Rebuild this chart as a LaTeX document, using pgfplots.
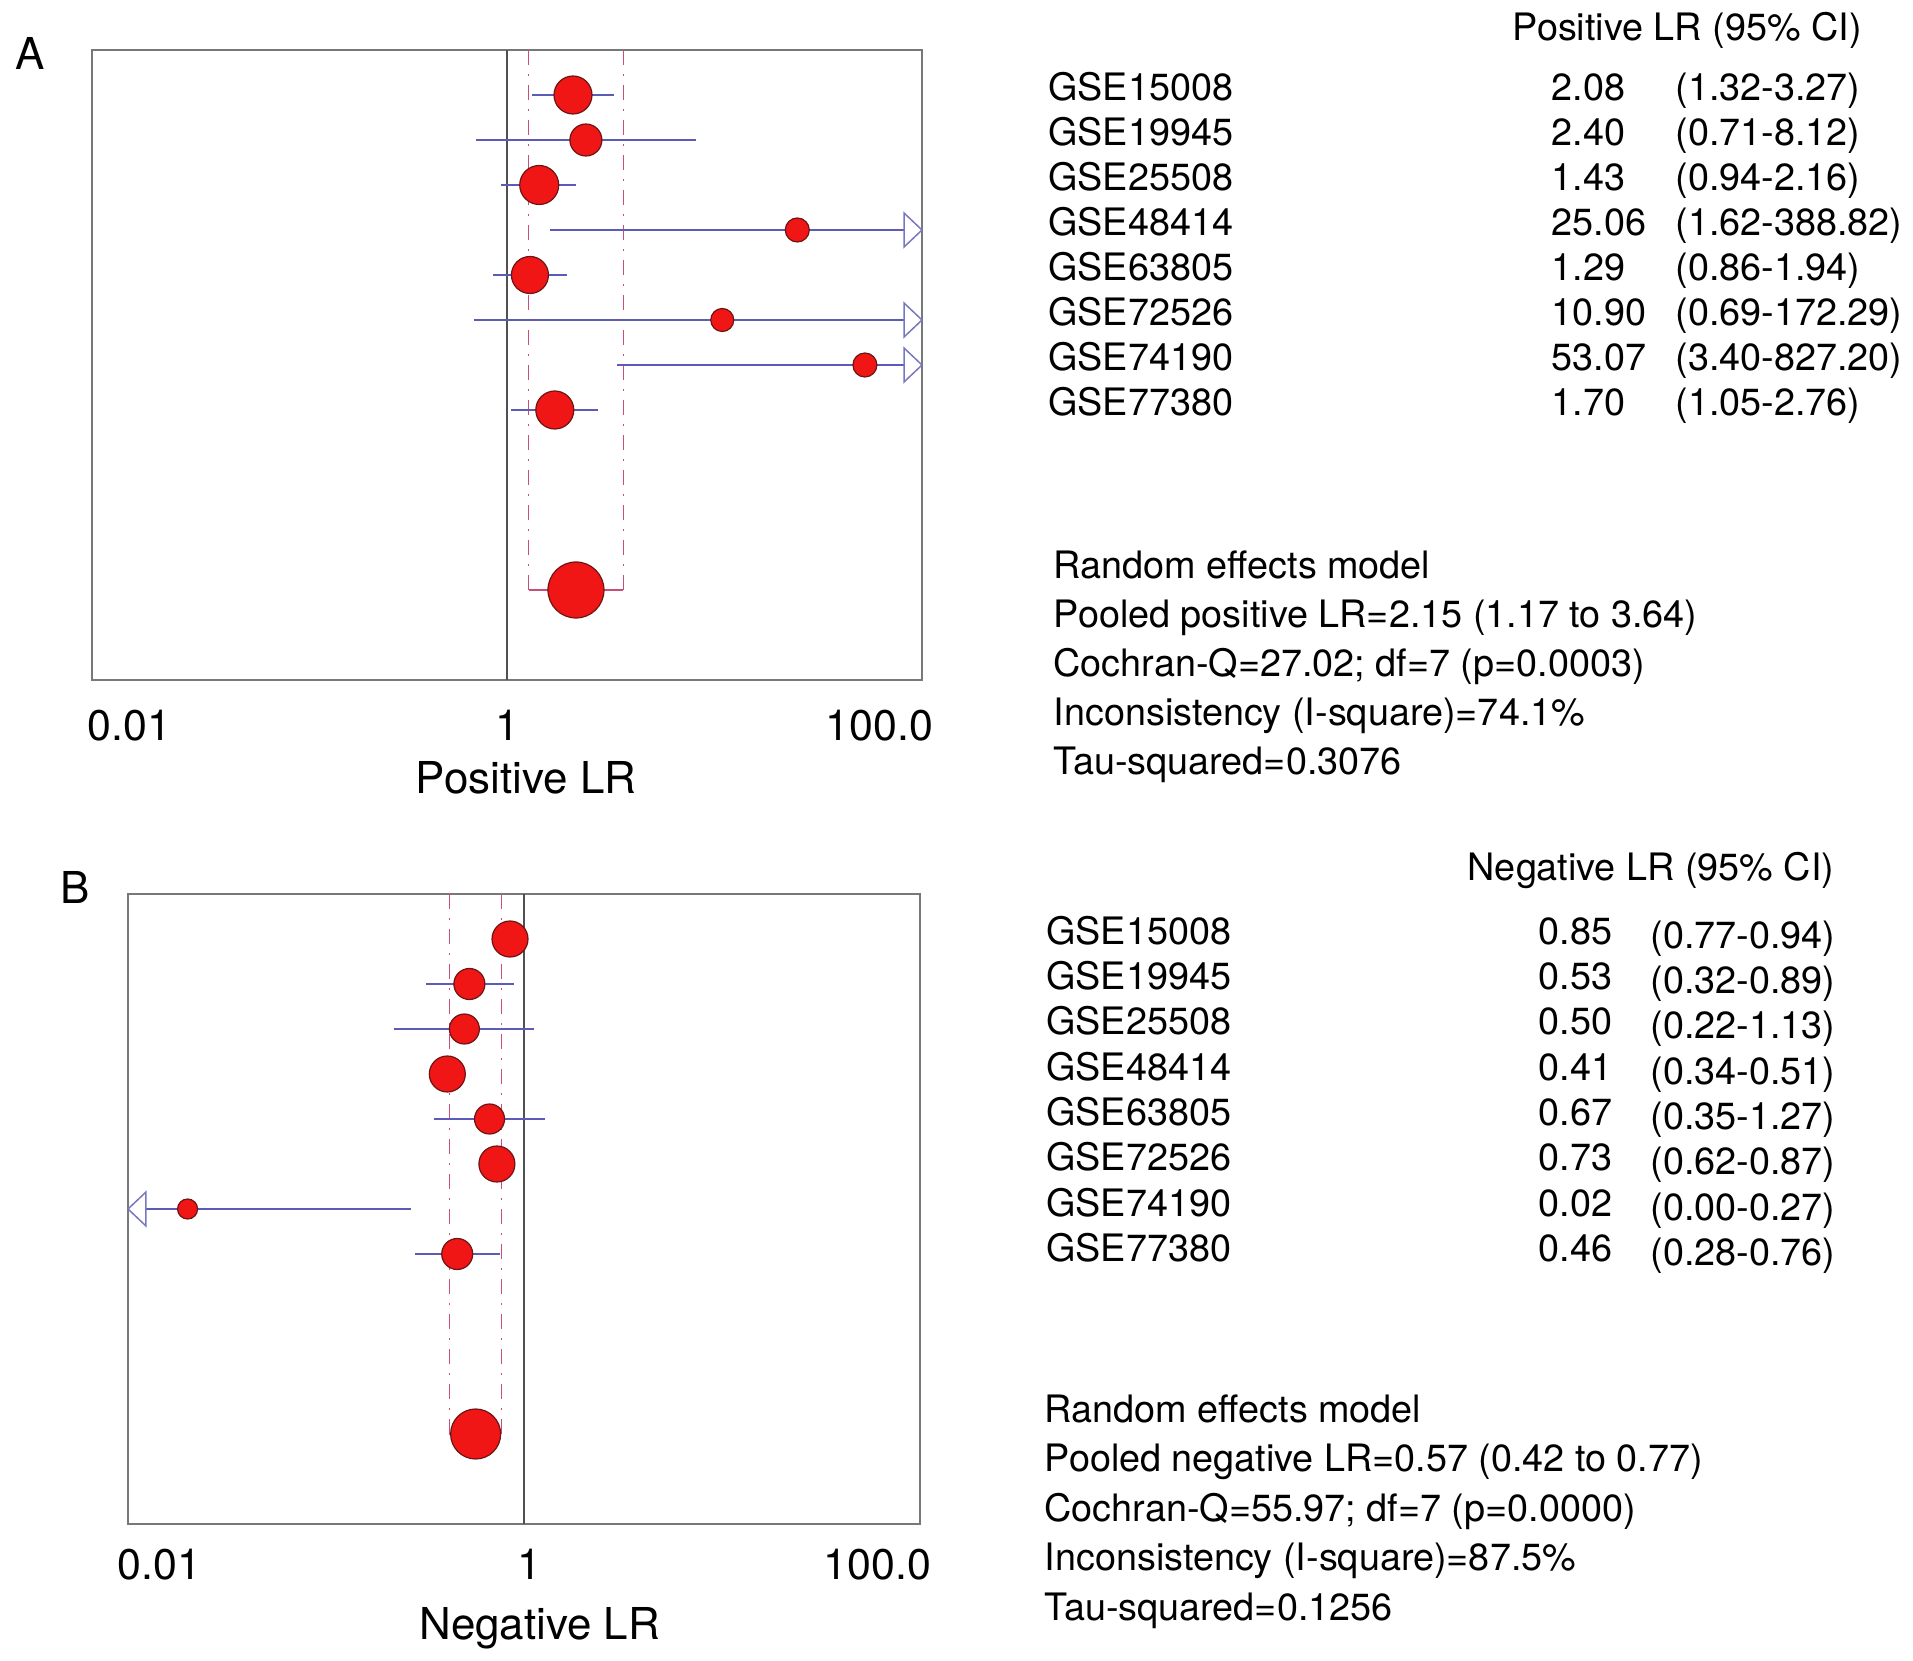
\documentclass[border=0pt]{standalone}
\usepackage{fontspec}
\setmainfont{TeX Gyre Heros}
\usepackage{pgfplots}
\usepackage{pgfplotstable}
\pgfplotsset{compat=1.18}

\definecolor{dotred}{RGB}{240,22,22}
\definecolor{dotedge}{RGB}{110,20,20}
\definecolor{ciblue}{RGB}{92,92,182}
\definecolor{arrowblue}{RGB}{120,120,190}
\definecolor{poolpink}{RGB}{200,80,120}
\definecolor{boxgray}{RGB}{120,120,120}
\definecolor{refgray}{RGB}{80,80,80}

% open triangles marking CIs that run past the axis (tip sits on the point)
\pgfdeclareplotmark{arrR}{%
  \pgfpathmoveto{\pgfpoint{0pt}{0pt}}%
  \pgfpathlineto{\pgfpoint{-1.8mm}{1.7mm}}%
  \pgfpathlineto{\pgfpoint{-1.8mm}{-1.7mm}}%
  \pgfpathclose\pgfusepathqfillstroke}
\pgfdeclareplotmark{arrL}{%
  \pgfpathmoveto{\pgfpoint{0pt}{0pt}}%
  \pgfpathlineto{\pgfpoint{1.8mm}{1.7mm}}%
  \pgfpathlineto{\pgfpoint{1.8mm}{-1.7mm}}%
  \pgfpathclose\pgfusepathqfillstroke}

% row = position from the top, r = marker radius (mm)
\pgfplotstableread{
row est  lo   hi     r
1   2.08 1.32 3.27   1.90
2   2.40 0.71 8.12   1.60
3   1.43 0.94 2.16   1.95
4   25.06 1.62 388.82 1.20
5   1.29 0.86 1.94   1.85
6   10.90 0.69 172.29 1.15
7   53.07 3.40 827.20 1.20
8   1.70 1.05 2.76   1.90
}\posLR

\pgfplotstableread{
row est  lo   hi   r
1   0.85 0.77 0.94 1.80
2   0.53 0.32 0.89 1.55
3   0.50 0.22 1.13 1.50
4   0.41 0.34 0.51 1.80
5   0.67 0.35 1.27 1.50
6   0.73 0.62 0.87 1.80
7   0.02 0.00 0.27 1.00
8   0.46 0.28 0.76 1.55
}\negLR

\pgfplotsset{
  fpdots/.style={
    scatter, only marks, mark=*,
    scatter/use mapped color={draw=dotedge, fill=dotred},
    visualization depends on={\thisrow{r}\as\rad},
    scatter/@pre marker code/.append style={/tikz/mark size=\rad mm},
    mark options={line width=0.12mm},
  },
  fppool/.style={only marks, mark=*, mark size=#1,
    mark options={draw=dotedge, fill=dotred, line width=0.12mm}},
  fpci/.style={ciblue, line width=0.18mm},
  fpref/.style={refgray, line width=0.15mm},
  fppoolci/.style={poolpink, line width=0.15mm,
    dash pattern=on 1.5mm off 0.9mm on 0.2mm off 0.9mm},
  fppoolbar/.style={poolpink, line width=0.15mm},
  fparrow/.style={only marks, mark=#1,
    mark options={draw=arrowblue, fill=white, line width=0.15mm}},
}

\newcommand{\txt}{\fontsize{10.75}{12}\selectfont}

\begin{document}
\begin{tikzpicture}
\path[use as bounding box] (0,0) rectangle (191.3mm,-166.1mm);

% ---------------- panel A ----------------
\begin{axis}[at={(9.2mm,-5.0mm)}, anchor=north west,
  width=83mm, height=63mm, scale only axis,
  xmode=log, xmin=0.01, xmax=100,
  ymin=0, ymax=14, y dir=reverse, ytick=\empty,
  xtick={0.01,1,100}, major tick length=0,
  axis line style={boxgray, line width=0.25mm},
  tick label style={font=\fontsize{12.2}{14}\selectfont},
  unbounded coords=jump,
  xticklabels={\makebox[0pt][l]{\kern-0.4mm 0.01}, 1, \makebox[0pt][r]{100.0\kern-1.1mm}},
  xticklabel style={anchor=base, yshift=-6.05mm},
  xlabel={Positive LR},
  xlabel style={font=\fontsize{12.5}{14}\selectfont, anchor=base,
    at={(axis description cs:0.523,0)}, yshift=-11.4mm},
]
\addplot[fpref] coordinates {(1,0) (1,14)};
\addplot[fppoolci] coordinates {(1.27,0) (1.27,12)};
\addplot[fppoolci] coordinates {(3.64,0) (3.64,12)};
\addplot[fppoolbar] coordinates {(1.27,12) (3.64,12)};
\addplot[fpdots] table[x=est, y=row] {\posLR};
\addplot[fppool=2.8mm] coordinates {(2.15,12)};
\addplot[fpci] coordinates {
  (1.32,1) (3.27,1) (nan,nan)
  (0.71,2) (8.12,2) (nan,nan)
  (0.94,3) (2.16,3) (nan,nan)
  (1.62,4) (388.82,4) (nan,nan)
  (0.86,5) (1.94,5) (nan,nan)
  (0.69,6) (172.29,6) (nan,nan)
  (3.40,7) (827.20,7) (nan,nan)
  (1.05,8) (2.76,8)};
\addplot[fparrow=arrR] coordinates {(100,4) (100,6) (100,7)};
\end{axis}

% ---------------- panel B ----------------
\begin{axis}[at={(12.8mm,-89.4mm)}, anchor=north west,
  width=79.2mm, height=63mm, scale only axis,
  xmode=log, xmin=0.01, xmax=100,
  ymin=0, ymax=14, y dir=reverse, ytick=\empty,
  xtick={0.01,1,100}, major tick length=0,
  axis line style={boxgray, line width=0.25mm},
  tick label style={font=\fontsize{12.2}{14}\selectfont},
  unbounded coords=jump,
  xticklabels={\makebox[0pt][l]{\kern-1.0mm 0.01}, \makebox[0pt]{\kern1.0mm 1}, \makebox[0pt][r]{100.0\kern-1.1mm}},
  xticklabel style={anchor=base, yshift=-5.55mm},
  xlabel={Negative LR},
  xlabel style={font=\fontsize{12.5}{14}\selectfont, anchor=base,
    at={(axis description cs:0.52,0)}, yshift=-11.5mm},
]
\addplot[fpref] coordinates {(1,0) (1,14)};
\addplot[fppoolci] coordinates {(0.42,0) (0.42,12)};
\addplot[fppoolci] coordinates {(0.77,0) (0.77,12)};
\addplot[fppoolbar] coordinates {(0.42,12) (0.77,12)};
\addplot[fpdots] table[x=est, y=row] {\negLR};
\addplot[fppool=2.5mm] coordinates {(0.57,12)};
\addplot[fpci] coordinates {
  (0.77,1) (0.94,1) (nan,nan)
  (0.32,2) (0.89,2) (nan,nan)
  (0.22,3) (1.13,3) (nan,nan)
  (0.34,4) (0.51,4) (nan,nan)
  (0.35,5) (1.27,5) (nan,nan)
  (0.62,6) (0.87,6) (nan,nan)
  (0.01,7) (0.27,7) (nan,nan)
  (0.28,8) (0.76,8)};
\addplot[fparrow=arrL] coordinates {(0.01,7)};
\end{axis}

% panel letters
\node[anchor=base west, inner sep=0, font=\fontsize{12.5}{14}\selectfont] at (1.5mm,-7.0mm) {A};
\node[anchor=base west, inner sep=0, font=\fontsize{12.5}{14}\selectfont] at (5.95mm,-90.4mm) {B};

% ---------------- table A ----------------
\node[anchor=base west, inner sep=0, font=\txt] at (151.2mm,-4.05mm) {Positive LR (95\% CI)};
\foreach \n/\v/\c [count=\i from 0] in {
  GSE15008/2.08/(1.32-3.27), GSE19945/2.40/(0.71-8.12),
  GSE25508/1.43/(0.94-2.16), GSE48414/25.06/(1.62-388.82),
  GSE63805/1.29/(0.86-1.94), GSE72526/10.90/(0.69-172.29),
  GSE74190/53.07/(3.40-827.20), GSE77380/1.70/(1.05-2.76)} {
  \pgfmathsetmacro{\yy}{10.05+4.5*\i}
  \node[anchor=base west, inner sep=0, font=\txt] at (104.75mm,-\yy mm) {\n};
  \node[anchor=base west, inner sep=0, font=\txt] at (155.1mm,-\yy mm) {\v};
  \node[anchor=base west, inner sep=0, font=\txt] at (167.5mm,-\yy mm) {\c};
}
\foreach \s [count=\i from 0] in {
  Random effects model,
  Pooled positive LR=2.15 (1.17 to 3.64),
  Cochran-Q=27.02; df=7 (p=0.0003),
  Inconsistency (I-square)=74.1\%,
  Tau-squared=0.3076} {
  \pgfmathsetmacro{\yy}{57.85+4.9*\i}
  \node[anchor=base west, inner sep=0, font=\txt] at (105.3mm,-\yy mm) {\s};
}

% ---------------- table B ----------------
\node[anchor=base west, inner sep=0, font=\txt] at (146.7mm,-88.05mm) {Negative LR (95\% CI)};
\foreach \n/\v/\c [count=\i from 0] in {
  GSE15008/0.85/(0.77-0.94), GSE19945/0.53/(0.32-0.89),
  GSE25508/0.50/(0.22-1.13), GSE48414/0.41/(0.34-0.51),
  GSE63805/0.67/(0.35-1.27), GSE72526/0.73/(0.62-0.87),
  GSE74190/0.02/(0.00-0.27), GSE77380/0.46/(0.28-0.76)} {
  \pgfmathsetmacro{\yy}{94.44+4.53*\i}
  \pgfmathsetmacro{\yc}{\yy+0.4}
  \node[anchor=base west, inner sep=0, font=\txt] at (104.55mm,-\yy mm) {\n};
  \node[anchor=base west, inner sep=0, font=\txt] at (153.8mm,-\yy mm) {\v};
  \node[anchor=base west, inner sep=0, font=\txt] at (165.0mm,-\yc mm) {\c};
}
\foreach \s [count=\i from 0] in {
  Random effects model,
  Pooled negative LR=0.57 (0.42 to 0.77),
  Cochran-Q=55.97; df=7 (p=0.0000),
  Inconsistency (I-square)=87.5\%,
  Tau-squared=0.1256} {
  \pgfmathsetmacro{\yy}{142.25+4.95*\i}
  \node[anchor=base west, inner sep=0, font=\txt] at (104.4mm,-\yy mm) {\s};
}
\end{tikzpicture}
\end{document}
